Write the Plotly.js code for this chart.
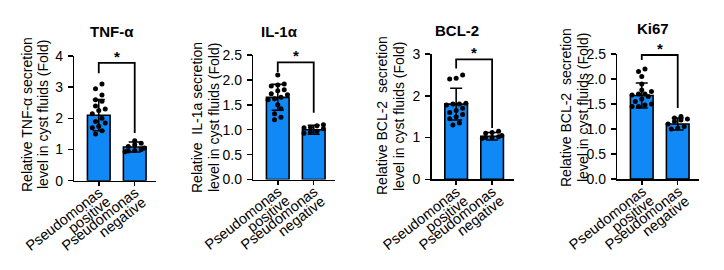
<!DOCTYPE html>
<html><head><meta charset="utf-8">
<script src="https://cdn.plot.ly/plotly-3.0.1.min.js"></script>
<style>html,body{margin:0;padding:0;background:#fff}#chart{width:724px;height:270px}</style>
</head><body><div id="chart"></div>
<script>
// ---------- data ----------
const groupLine1 = ['Pseudomonas', 'Pseudomonas'];
const groupLine2 = ['positive', 'negative'];
const panelTitles = ['TNF-α', 'IL-1α', 'BCL-2', 'Ki67'];
const yTitleLine1 = ['Relative TNF-α secretion', 'Relative\u00a0 IL-1a secretion', 'Relative BCL-2\u00a0 secretion', 'Relative BCL-2\u00a0 secretion'];
const yTitleLine2 = ['level in cyst fluids (Fold)', 'level in cyst fluids (Fold)', 'level in cyst fluids (Fold)', 'level in cyst fluids (Fold)'];
const yMax = [4, 2.5, 3, 2.5];
const yStep = [1, 0.5, 1, 0.5];

const meanTNF = [2.1, 1.08];
const sdTNF = [0.5, 0.16];
const ptsTNFpos = [3.1, 2.95, 2.75, 2.6, 2.55, 2.4, 2.3, 2.25, 2.15, 2.0, 1.9, 1.85, 1.75, 1.7, 1.6, 1.5];
const ptsTNFneg = [1.28, 1.2, 1.15, 1.1, 1.05, 1.0, 0.97, 0.95, 0.93];

const meanIL = [1.65, 1.0];
const sdIL = [0.26, 0.09];
const ptsILpos = [2.1, 1.92, 1.9, 1.88, 1.8, 1.78, 1.72, 1.7, 1.65, 1.62, 1.6, 1.5, 1.42, 1.32, 1.25, 1.2];
const ptsILneg = [1.1, 1.08, 1.05, 1.04, 1.02, 0.97, 0.95, 0.93];

const meanBCL = [1.8, 1.03];
const sdBCL = [0.38, 0.09];
const ptsBCLpos = [2.5, 2.42, 2.4, 1.82, 1.8, 1.8, 1.78, 1.7, 1.65, 1.6, 1.55, 1.5, 1.45, 1.35, 1.3];
const ptsBCLneg = [1.15, 1.12, 1.1, 1.05, 1.02, 1.0, 0.98, 1.0];

const meanKi = [1.67, 1.1];
const sdKi = [0.25, 0.12];
const ptsKipos = [2.2, 2.15, 2.05, 1.9, 1.78, 1.75, 1.7, 1.7, 1.68, 1.65, 1.6, 1.55, 1.5, 1.48, 1.45, 1.45];
const ptsKineg = [1.25, 1.22, 1.2, 1.18, 1.15, 1.1, 1.05, 1.02, 1.0];

const bracketTop = [3.78, 2.35, 2.87, 2.48];
const bracketLeftEnd = [3.45, 2.16, 2.65, 2.38];
const bracketRightEnd = [1.53, 1.34, 1.23, 1.42];
const sigLabel = ['*', '*', '*', '*'];

// ---------- layout helpers ----------
const W = 724, H = 270;
const panelX = [[74.3, 156.3], [253.3, 335.3], [431.7, 513.7], [617.3, 699.3]];
const panelY = [[56, 180.7], [55, 179.5], [54, 179.3], [54, 179]];
const titlePos = [[111.5, 32], [279, 32], [456.5, 30], [652.5, 28]];
const yTitlePos = [[27, 43, 115], [197, 214, 118], [382, 399, 116], [566, 583, 108]];
const xRange = [-0.68, 1.6];
const LABEL_ANGLE = -38;
const LABEL_LINE_SHIFT = [[10, -1], [17.4, -10.5]];

const means = [meanTNF, meanIL, meanBCL, meanKi];
const sds = [sdTNF, sdIL, sdBCL, sdKi];
const pts = [[ptsTNFpos, ptsTNFneg], [ptsILpos, ptsILneg], [ptsBCLpos, ptsBCLneg], [ptsKipos, ptsKineg]];

// deterministic "scatter dot plot" spreading of points that share a similar level
function spread(vals, range) {
  const idx = vals.map((v, i) => i).sort((a, b) => vals[a] - vals[b]);
  const off = new Array(vals.length).fill(0);
  const thr = range * 0.04;
  let g = [idx[0]];
  const flush = () => {
    const n = g.length;
    g.forEach((k, j) => { off[k] = Math.max(-0.27, Math.min(0.27, (j - (n - 1) / 2) * 0.18)); });
  };
  for (let m = 1; m < idx.length; m++) {
    if (vals[idx[m]] - vals[g[0]] < thr) g.push(idx[m]);
    else { flush(); g = [idx[m]]; }
  }
  flush();
  return off;
}

const FONT = 'Arial, "Liberation Sans", Helvetica, sans-serif';
const traces = [];
const layout = {
  width: W, height: H,
  margin: {l: 0, r: 0, t: 0, b: 0},
  paper_bgcolor: '#fff', plot_bgcolor: 'rgba(0,0,0,0)',
  showlegend: false,
  font: {family: FONT, color: '#000', size: 14},
  shapes: [], annotations: []
};

for (let p = 0; p < 4; p++) {
  const s = p === 0 ? '' : String(p + 1);
  const xa = 'x' + s, ya = 'y' + s;
  traces.push({
    type: 'bar', x: [0, 1], y: means[p], width: 0.63,
    xaxis: xa, yaxis: ya,
    marker: {color: '#1088f5', line: {color: '#000', width: 1.6}},
    error_y: {type: 'data', array: sds[p], visible: true, color: '#000', thickness: 1.6, width: 6},
    hoverinfo: 'skip'
  });
  for (let g = 0; g < 2; g++) {
    const off = spread(pts[p][g], yMax[p]);
    traces.push({
      type: 'scatter', mode: 'markers',
      x: pts[p][g].map((v, i) => g + off[i]), y: pts[p][g],
      xaxis: xa, yaxis: ya, cliponaxis: false,
      marker: {color: '#000', size: 5},
      hoverinfo: 'skip'
    });
  }
  layout['xaxis' + s] = {
    domain: [panelX[p][0] / W, panelX[p][1] / W], anchor: ya,
    range: xRange, tickvals: [0, 1], showticklabels: false,
    ticks: 'outside', ticklen: 4, tickwidth: 1.5, tickcolor: '#000',
    showline: true, linewidth: 1.5, linecolor: '#000',
    showgrid: false, zeroline: false, fixedrange: true
  };
  layout['yaxis' + s] = {
    domain: [(H - panelY[p][1]) / H, (H - panelY[p][0]) / H], anchor: xa,
    range: [0, yMax[p]], tick0: 0, dtick: yStep[p], tickformat: yStep[p] < 1 ? '.1f' : 'd',
    ticks: 'outside', ticklen: 5, tickwidth: 1.5, tickcolor: '#000',
    showline: true, linewidth: 1.5, linecolor: '#000',
    showgrid: false, zeroline: false, fixedrange: true,
    ticklabelstandoff: 2,
    tickfont: {family: FONT, size: 14, color: '#000'}
  };
  // category labels (two rotated lines, right-aligned at the tick)
  for (let g = 0; g < 2; g++) {
    [groupLine1[g], groupLine2[g]].forEach((txt, li) => {
      layout.annotations.push({
        xref: xa, yref: ya + ' domain', x: g, y: 0, text: txt,
        textangle: LABEL_ANGLE, showarrow: false, xanchor: 'right', yanchor: 'top',
        xshift: LABEL_LINE_SHIFT[li][0], yshift: LABEL_LINE_SHIFT[li][1],
        font: {family: FONT, size: 14.5, color: '#000'}
      });
    });
  }
  layout.shapes.push({
    type: 'path', xref: xa, yref: ya,
    path: `M 0,${bracketLeftEnd[p]} L 0,${bracketTop[p]} L 1,${bracketTop[p]} L 1,${bracketRightEnd[p]}`,
    line: {color: '#000', width: 1.8}
  });
  layout.annotations.push({
    xref: xa, yref: ya, x: 0.5, y: bracketTop[p], text: sigLabel[p],
    showarrow: false, xanchor: 'center', yanchor: 'bottom', yshift: -4,
    font: {family: FONT, size: 15, color: '#000', weight: 'bold'}
  });
  layout.annotations.push({
    xref: 'paper', yref: 'paper', x: titlePos[p][0] / W, y: (H - titlePos[p][1]) / H,
    text: panelTitles[p], showarrow: false, xanchor: 'center', yanchor: 'middle',
    font: {family: FONT, size: 15, color: '#000', weight: 'bold'}
  });
  layout.annotations.push({
    xref: 'paper', yref: 'paper', x: yTitlePos[p][0] / W, y: (H - yTitlePos[p][2]) / H,
    text: yTitleLine1[p], textangle: -90, showarrow: false, xanchor: 'center', yanchor: 'middle',
    font: {family: FONT, size: 14, color: '#000'}
  });
  layout.annotations.push({
    xref: 'paper', yref: 'paper', x: yTitlePos[p][1] / W, y: (H - yTitlePos[p][2]) / H,
    text: yTitleLine2[p], textangle: -90, showarrow: false, xanchor: 'center', yanchor: 'middle',
    font: {family: FONT, size: 14, color: '#000'}
  });
}

Plotly.newPlot('chart', traces, layout, {displayModeBar: false, staticPlot: true});
</script>
</body></html>
